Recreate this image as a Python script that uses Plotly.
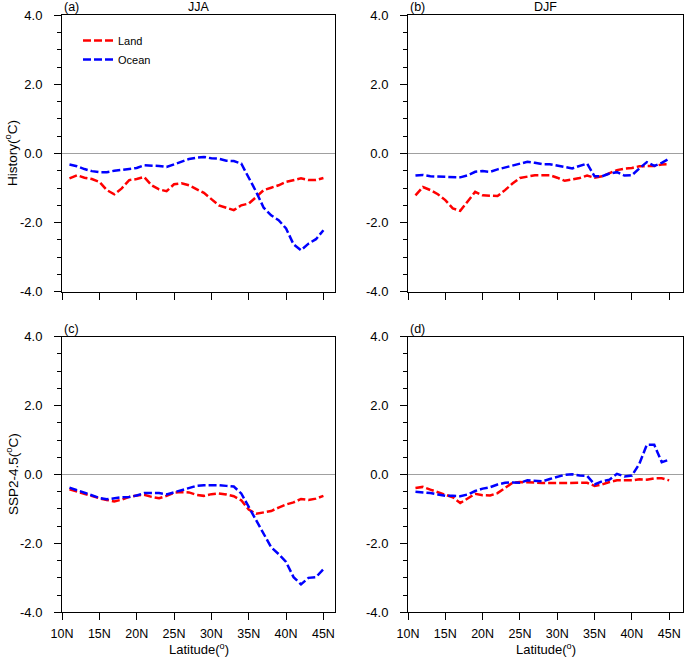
import plotly.graph_objects as go

lat = list(range(11, 46))

# Panel (a) History JJA
hist_jja_land = [-0.72, -0.63, -0.70, -0.74, -0.82, -1.06, -1.18, -1.01, -0.77, -0.74,
                 -0.68, -0.92, -1.04, -1.09, -0.89, -0.86, -0.92, -1.04, -1.14, -1.32,
                 -1.50, -1.57, -1.64, -1.50, -1.45, -1.26, -1.06, -0.99, -0.92, -0.82,
                 -0.77, -0.72, -0.77, -0.77, -0.71]
hist_jja_ocean = [-0.32, -0.37, -0.45, -0.51, -0.54, -0.54, -0.50, -0.47, -0.46, -0.42,
                  -0.34, -0.34, -0.36, -0.39, -0.32, -0.23, -0.16, -0.12, -0.10, -0.14,
                  -0.15, -0.21, -0.22, -0.29, -0.68, -1.11, -1.57, -1.79, -1.93, -2.17,
                  -2.63, -2.80, -2.61, -2.48, -2.22]
# Panel (b) History DJF
hist_djf_land = [-1.21, -0.97, -1.06, -1.18, -1.35, -1.59, -1.66, -1.40, -1.11, -1.21,
                 -1.21, -1.23, -1.06, -0.87, -0.71, -0.68, -0.63, -0.63, -0.63, -0.70,
                 -0.79, -0.75, -0.71, -0.64, -0.70, -0.66, -0.58, -0.48, -0.44, -0.42,
                 -0.37, -0.36, -0.36, -0.32, -0.31]
hist_djf_ocean = [-0.64, -0.62, -0.66, -0.67, -0.68, -0.68, -0.69, -0.63, -0.53, -0.51,
                  -0.53, -0.46, -0.41, -0.35, -0.31, -0.24, -0.27, -0.31, -0.31, -0.34,
                  -0.39, -0.43, -0.37, -0.29, -0.66, -0.66, -0.58, -0.54, -0.64, -0.63,
                  -0.43, -0.25, -0.36, -0.27, -0.15]
# Panel (c) SSP2-4.5 JJA
ssp_jja_land = [-0.43, -0.50, -0.55, -0.63, -0.69, -0.74, -0.78, -0.73, -0.65, -0.61,
                -0.59, -0.65, -0.69, -0.62, -0.53, -0.51, -0.52, -0.59, -0.62, -0.57,
                -0.55, -0.58, -0.63, -0.75, -1.02, -1.14, -1.10, -1.06, -0.96, -0.87,
                -0.81, -0.71, -0.74, -0.70, -0.62]
ssp_jja_ocean = [-0.38, -0.46, -0.53, -0.61, -0.68, -0.72, -0.68, -0.66, -0.65, -0.61,
                 -0.54, -0.53, -0.54, -0.58, -0.52, -0.44, -0.38, -0.33, -0.31, -0.30,
                 -0.31, -0.33, -0.35, -0.55, -0.94, -1.33, -1.72, -2.11, -2.31, -2.54,
                 -2.98, -3.19, -3.00, -2.98, -2.75]
# Panel (d) SSP2-4.5 DJF
ssp_djf_land = [-0.39, -0.36, -0.44, -0.51, -0.59, -0.66, -0.83, -0.69, -0.56, -0.60,
                -0.61, -0.54, -0.40, -0.24, -0.22, -0.22, -0.23, -0.25, -0.25, -0.24,
                -0.23, -0.24, -0.24, -0.24, -0.33, -0.29, -0.22, -0.17, -0.17, -0.17,
                -0.14, -0.15, -0.11, -0.11, -0.17]
ssp_djf_ocean = [-0.50, -0.51, -0.54, -0.58, -0.62, -0.62, -0.63, -0.58, -0.48, -0.41,
                 -0.37, -0.29, -0.24, -0.23, -0.24, -0.17, -0.19, -0.20, -0.13, -0.08,
                 -0.01, 0.01, -0.03, -0.04, -0.29, -0.20, -0.15, 0.02, -0.06, -0.03,
                 0.31, 0.86, 0.86, 0.36, 0.43]

panel_labels = ["(a)", "(b)", "(c)", "(d)"]
season_titles = ["JJA", "DJF"]
row_titles = ["History(<sup>o</sup>C)", "SSP2-4.5(<sup>o</sup>C)"]
xtick_vals = [10, 15, 20, 25, 30, 35, 40, 45]
xtick_text = ["10N", "15N", "20N", "25N", "30N", "35N", "40N", "45N"]
ytick_vals = [-4, -2, 0, 2, 4]
ytick_text = ["-4.0", "-2.0", "0.0", "2.0", "4.0"]

W, H = 685, 657
FONT = "Liberation Sans, Arial, Helvetica, sans-serif"

# pixel boxes of panels (left, right, top, bottom)
boxes = [(62, 335, 15.3, 291.7), (408, 683, 15.3, 291.7),
         (62, 335, 336.7, 612.3), (408, 683, 336.7, 612.3)]
xranges = [[10, 46.55], [10, 46.85], [10, 46.55], [10, 46.85]]

data = [(hist_jja_land, hist_jja_ocean), (hist_djf_land, hist_djf_ocean),
        (ssp_jja_land, ssp_jja_ocean), (ssp_djf_land, ssp_djf_ocean)]

fig = go.Figure()
layout = dict(template="none", width=W, height=H, margin=dict(l=0, r=0, t=0, b=0, pad=0),
              paper_bgcolor="white", plot_bgcolor="white",
              font=dict(family=FONT, size=12, color="black"),
              showlegend=True)
annotations = []

for i, (box, (land, ocean)) in enumerate(zip(boxes, data)):
    n = i + 1
    xa = "x" if n == 1 else f"x{n}"
    ya = "y" if n == 1 else f"y{n}"
    l, r, t, b = box
    bottom_row = i >= 2
    layout[f"xaxis{'' if n == 1 else n}"] = dict(
        domain=[l / W, r / W], range=xranges[i], anchor=ya, automargin=False,
        showline=True, linecolor="black", linewidth=1, mirror=True,
        showgrid=False, zeroline=False,
        ticks="outside", ticklen=7, tickwidth=1, tickcolor="black",
        tickvals=xtick_vals, ticktext=xtick_text, ticklabelstandoff=3,
        showticklabels=bottom_row, tickfont=dict(size=12.5),
    )
    layout[f"yaxis{'' if n == 1 else n}"] = dict(
        domain=[1 - b / H, 1 - t / H], range=[-4, 4], anchor=xa, automargin=False,
        showline=True, linecolor="black", linewidth=1, mirror=True,
        showgrid=False, zeroline=True, zerolinecolor="#a0a0a0", zerolinewidth=1,
        ticks="outside", ticklen=7, tickwidth=1, tickcolor="black",
        tickvals=ytick_vals, ticktext=ytick_text, tickfont=dict(size=13),
        ticklabelstandoff=9,
        minor=dict(ticks="outside", ticklen=4, tickcolor="black", dtick=0.5, showgrid=False),
    )
    fig.add_trace(go.Scatter(x=lat, y=land, mode="lines", name="Land",
                             line=dict(color="#ff0000", width=2.5, dash="8px,3px"),
                             xaxis=xa, yaxis=ya, showlegend=(i == 0)))
    fig.add_trace(go.Scatter(x=lat, y=ocean, mode="lines", name="Ocean",
                             line=dict(color="#0000ff", width=2.5, dash="8px,3px"),
                             xaxis=xa, yaxis=ya, showlegend=(i == 0)))
    annotations.append(dict(text=panel_labels[i], x=l / W, y=1 - (t - 8) / H,
                            xref="paper", yref="paper", xanchor="left", yanchor="middle",
                            showarrow=False, font=dict(size=12.5)))
    if not bottom_row:
        annotations.append(dict(text=season_titles[i], x=(l + r) / 2 / W, y=1 - (t - 8) / H,
                                xref="paper", yref="paper", xanchor="center", yanchor="middle",
                                showarrow=False, font=dict(size=12.5)))
    else:
        annotations.append(dict(text="Latitude(<sup>o</sup>)", x=(l + r) / 2 / W, y=1 - 649 / H,
                                xref="paper", yref="paper", xanchor="center", yanchor="middle",
                                showarrow=False, font=dict(size=13)))
    if i % 2 == 0:
        annotations.append(dict(text=row_titles[i // 2], x=0.5 / W, y=1 - ((t + b) / 2) / H,
                                xref="paper", yref="paper", xanchor="left", yanchor="middle",
                                textangle=-90, showarrow=False, font=dict(size=13.5)))

layout["annotations"] = annotations
layout["legend"] = dict(x=78 / W, y=1 - 26 / H, xanchor="left", yanchor="top",
                        bgcolor="rgba(0,0,0,0)", font=dict(size=11),
                        itemwidth=30, tracegroupgap=2)
fig.update_layout(**layout)
fig.write_html("out.html", config={"displayModeBar": False},
               post_script="document.body.style.margin='0px';")
